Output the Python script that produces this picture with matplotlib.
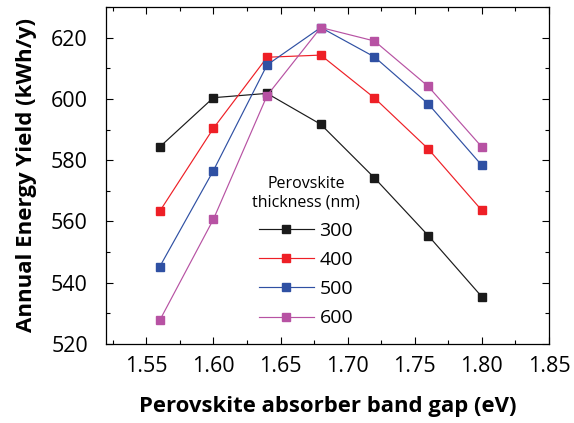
import numpy as np
import matplotlib.pyplot as plt
from matplotlib.ticker import MultipleLocator

plt.rcParams['font.family'] = ['Open Sans', 'DejaVu Sans']

band_gap = [1.56, 1.60, 1.64, 1.68, 1.72, 1.76, 1.80]
thickness = ['300', '400', '500', '600']
yield_300 = [584.3, 600.4, 601.8, 591.7, 574.2, 555.4, 535.4]
yield_400 = [563.3, 590.4, 613.6, 614.3, 600.3, 583.7, 563.6]
yield_500 = [545.2, 576.6, 611.1, 623.3, 613.7, 598.4, 578.3]
yield_600 = [527.7, 560.7, 601.1, 623.3, 618.9, 604.1, 584.3]
series = [yield_300, yield_400, yield_500, yield_600]
colors = ['#1a1a1a', '#ee1f26', '#2f50a3', '#b752a3']

fig = plt.figure(figsize=(5.74, 4.23), dpi=100)
ax = fig.add_axes([106 / 574, 1 - 344 / 423, 443 / 574, 337 / 423])

for ys, c, lab in zip(series, colors, thickness):
    ax.plot(band_gap, ys, color=c, lw=0.85, marker='s', ms=5.3,
            mec=c, mfc=c, label=lab)

ax.set_xlim(1.52, 1.85)
ax.set_ylim(520, 630)
ax.xaxis.set_major_locator(MultipleLocator(0.05))
ax.xaxis.set_minor_locator(MultipleLocator(0.025))
ax.yaxis.set_major_locator(MultipleLocator(20))
ax.yaxis.set_minor_locator(MultipleLocator(10))
ax.xaxis.set_major_formatter(plt.FuncFormatter(lambda v, p: f'{v:.2f}'))
ax.tick_params(which='both', direction='in', top=True, right=True,
               labelsize=15.5, width=0.8)
ax.tick_params(which='major', length=5)
ax.tick_params(which='minor', length=3)
ax.tick_params(axis='x', which='major', pad=9)
ax.tick_params(axis='y', which='major', pad=13)
for s in ax.spines.values():
    s.set_linewidth(0.9)

ax.set_xlabel('Perovskite absorber band gap (eV)', fontsize=15.9,
              fontweight='bold', labelpad=13)
ax.set_ylabel('Annual Energy Yield (kWh/y)', fontsize=16,
              fontweight='bold', labelpad=10)

leg = ax.legend(title='Perovskite\nthickness (nm)', frameon=False,
                fontsize=14, title_fontsize=11.5, handlelength=2.8,
                handletextpad=0.3, labelspacing=0.58,
                loc='center', bbox_to_anchor=(0.452, 0.274))
leg.get_title().set_multialignment('center')

fig.savefig('out.png', dpi=100)
